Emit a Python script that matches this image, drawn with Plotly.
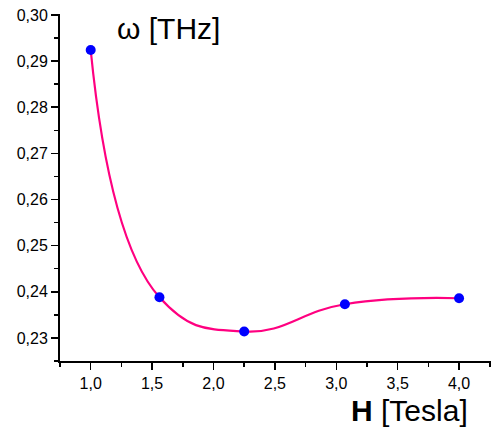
import plotly.graph_objects as go

# Data
H_tesla = [1.0, 1.56, 2.25, 3.07, 4.0]
omega_thz = [0.2924, 0.2388, 0.2314, 0.2373, 0.2386]

x_ticks = [1.0, 1.5, 2.0, 2.5, 3.0, 3.5, 4.0]
y_ticks = [0.23, 0.24, 0.25, 0.26, 0.27, 0.28, 0.29, 0.30]

W, H = 492, 428
L, R, T, B = 60, 1, 14, 67
pw, ph = W - L - R, H - T - B

fig = go.Figure()
fig.add_trace(go.Scatter(
    x=H_tesla, y=omega_thz, mode="lines+markers",
    line=dict(color="#FF0080", width=2.2, shape="spline", smoothing=1.3),
    marker=dict(color="#0000FF", size=10),
    showlegend=False, hoverinfo="skip",
))

axis_common = dict(
    showline=True, linecolor="black", linewidth=2, mirror=False,
    ticks="outside", ticklen=7, tickwidth=1.5, tickcolor="black",
    showgrid=False, zeroline=False,
    tickfont=dict(family="Liberation Sans, Arial", size=16, color="black"),
)

fig.update_xaxes(range=[0.75, 4.26], tickvals=x_ticks, tickformat=".1f",
                 minor=dict(ticks="outside", ticklen=4, dtick=0.25, tick0=0.75,
                            tickcolor="black", tickwidth=1.5),
                 **axis_common)
fig.update_yaxes(range=[0.225, 0.3002], tickvals=y_ticks, tickformat=".2f",
                 minor=dict(ticks="outside", ticklen=4, dtick=0.005, tick0=0.225,
                            tickcolor="black", tickwidth=1.5),
                 **axis_common)

fig.add_annotation(text="ω [THz]", xref="paper", yref="paper",
                   x=(115 - L) / pw, y=(H - B - 29) / ph,
                   xanchor="left", yanchor="middle", showarrow=False,
                   font=dict(family="Liberation Sans, Arial", size=30, color="black"))
fig.add_annotation(text="<b>H</b> [Tesla]", xref="paper", yref="paper",
                   x=(470 - L) / pw, y=(H - B - 410) / ph,
                   xanchor="right", yanchor="middle", showarrow=False,
                   font=dict(family="Liberation Sans, Arial", size=30, color="black"))

fig.update_layout(
    width=W, height=H,
    margin=dict(l=L, r=R, t=T, b=B, autoexpand=False),
    paper_bgcolor="white", plot_bgcolor="white",
    separators=",.",
)
fig.write_html("out.html", config={"displayModeBar": False, "staticPlot": True},
               post_script="document.body.style.margin='0px';document.body.style.overflow='hidden';")
